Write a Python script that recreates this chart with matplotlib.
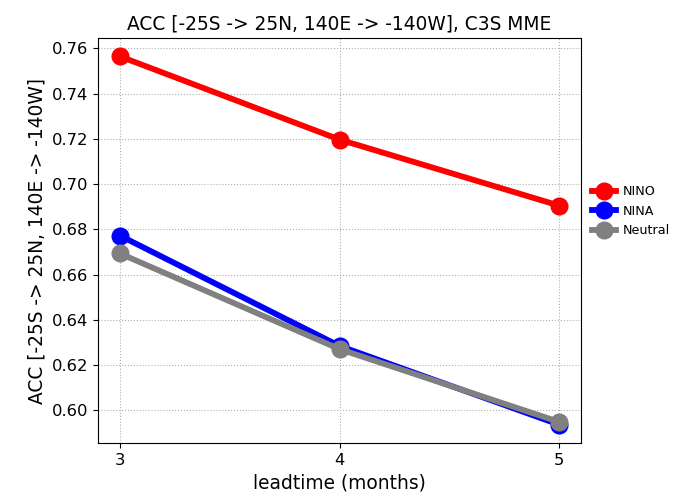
import matplotlib
matplotlib.use("Agg")
import matplotlib.pyplot as plt

leadtime = [3, 4, 5]
nino = [0.7565, 0.7197, 0.6905]
nina = [0.6772, 0.6284, 0.5936]
neutral = [0.6693, 0.6270, 0.5948]

fig = plt.figure(figsize=(6.73, 4.98), dpi=100)
ax = fig.add_axes([98/673, 1-443/498, (581-98)/673, (443-38)/498])

ax.plot(leadtime, nino, color='red', lw=4.2, marker='o', ms=12, label='NINO')
ax.plot(leadtime, nina, color='blue', lw=4.2, marker='o', ms=12, label='NINA')
ax.plot(leadtime, neutral, color='grey', lw=4.2, marker='o', ms=12, label='Neutral')

ax.set_xticks(leadtime)
ax.grid(ls=':', color='#b0b0b0')
ax.tick_params(labelsize=11.8)
ax.set_xlabel('leadtime (months)', fontsize=13.4)
ax.set_ylabel('ACC [-25S -> 25N, 140E -> -140W]', fontsize=13.4)
ax.set_title('ACC [-25S -> 25N, 140E -> -140W], C3S MME', fontsize=13.4)
ax.legend(loc='upper left', bbox_to_anchor=(1.0, 0.663), frameon=False,
          fontsize=9.2, handlelength=1.9, handletextpad=0.55, borderaxespad=0.45)

fig.savefig('out.png', dpi=100)
